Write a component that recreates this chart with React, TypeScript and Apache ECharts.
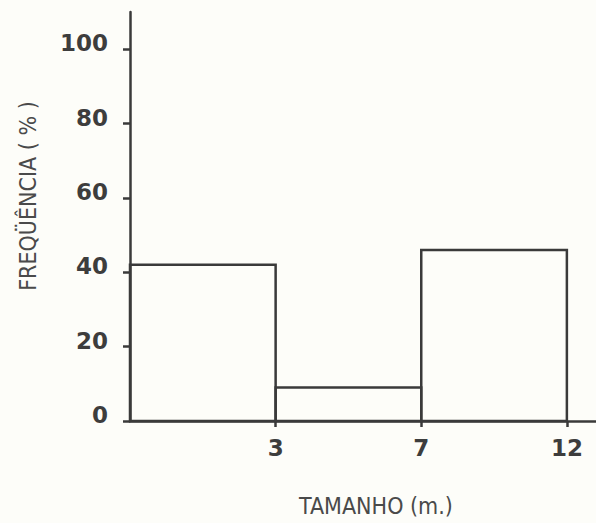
import React, { useEffect, useRef } from "react";
import * as echarts from "echarts";

const binEdgeLabels = ["0", "3", "7", "12"];
const binValues = [42, 9, 46];
const yTickValues = [0, 20, 40, 60, 80, 100];
const yAxisTitle = "FREQÜÊNCIA ( % )";
const xAxisTitle = "TAMANHO (m.)";

const INK = "#3a3a3a";
const TITLE_FONT = "'DejaVu Sans Condensed', 'Liberation Sans Narrow', 'DejaVu Sans', sans-serif";

export default function App() {
  const ref = useRef<HTMLDivElement>(null);

  useEffect(() => {
    if (!ref.current) return;
    const chart = echarts.init(ref.current, undefined, { renderer: "svg" });
    const binData = binValues.map((v, i) => [i, i + 1, v]);
    const tickIdx = binEdgeLabels.map((_, i) => i).filter((i) => i > 0);

    chart.setOption({
      animation: false,
      backgroundColor: "#fdfdf9",
      grid: { left: 130, right: 0, top: 12, bottom: 102, containLabel: false },
      xAxis: {
        type: "value",
        min: 0,
        max: 3.2,
        axisLine: { show: true, onZero: false, lineStyle: { color: INK, width: 2.5 } },
        axisTick: { show: true, customValues: tickIdx, length: 6, lineStyle: { color: INK, width: 2.5 } },
        axisLabel: {
          customValues: tickIdx,
          formatter: (v: number) => binEdgeLabels[Math.round(v)],
          margin: 15,
          color: "#3d3d3d",
          fontFamily: "'DejaVu Sans', sans-serif",
          fontWeight: "bold",
          fontSize: 23,
        },
        splitLine: { show: false },
      },
      yAxis: {
        type: "value",
        min: 0,
        max: 110,
        axisLine: { show: true, lineStyle: { color: INK, width: 2.5 } },
        axisTick: { show: true, customValues: yTickValues, length: 7, lineStyle: { color: INK, width: 2.5 } },
        axisLabel: {
          customValues: yTickValues,
          margin: 22,
          verticalAlign: "bottom",
          lineHeight: 12,
          color: "#3d3d3d",
          fontFamily: "'DejaVu Sans', sans-serif",
          fontWeight: "bold",
          fontSize: 23,
        },
        splitLine: { show: false },
      },
      graphic: [
        {
          type: "text",
          x: 28,
          y: 196,
          rotation: Math.PI / 2,
          style: {
            text: yAxisTitle,
            font: `500 23px ${TITLE_FONT}`,
            fill: "#4a4a4a",
            align: "center",
            verticalAlign: "middle",
          },
        },
        {
          type: "text",
          x: 376,
          y: 506,
          style: {
            text: xAxisTitle,
            font: `500 23px ${TITLE_FONT}`,
            fill: "#4a4a4a",
            align: "center",
            verticalAlign: "middle",
          },
        },
      ],
      series: [
        {
          type: "custom",
          clip: false,
          encode: { x: [0, 1], y: 2 },
          data: binData,
          renderItem: (params: any, api: any) => {
            const p0 = api.coord([api.value(0), 0]);
            const p1 = api.coord([api.value(1), api.value(2)]);
            return {
              type: "rect",
              shape: { x: p0[0], y: p1[1], width: p1[0] - p0[0], height: p0[1] - p1[1] },
              style: { fill: "none", stroke: INK, lineWidth: 2.5 },
            };
          },
        },
      ],
    });

    return () => chart.dispose();
  }, []);

  return <div ref={ref} style={{ width: 596, height: 523, position: "absolute", left: 0, top: 0 }} />;
}
